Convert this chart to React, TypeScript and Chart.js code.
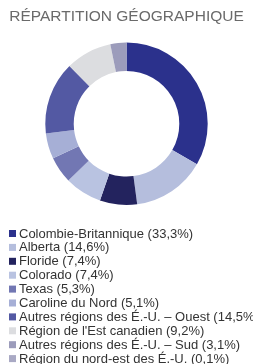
import React, { useEffect, useRef } from "react";
import { Chart, registerables } from "chart.js";

Chart.register(...registerables);

const TITLE = "RÉPARTITION GÉOGRAPHIQUE";
const categories = [
  "Colombie-Britannique",
  "Alberta",
  "Floride",
  "Colorado",
  "Texas",
  "Caroline du Nord",
  "Autres régions des É.-U. – Ouest",
  "Région de l'Est canadien",
  "Autres régions des É.-U. – Sud",
  "Région du nord-est des É.-U.",
];
const values = [33.3, 14.6, 7.4, 7.4, 5.3, 5.1, 14.5, 9.2, 3.1, 0.1];
const colors = [
  "#2b318c",
  "#b5bedd",
  "#23235e",
  "#b9c3e1",
  "#7277b3",
  "#a6afd6",
  "#5359a3",
  "#dcdde0",
  "#9c9cbb",
  "#a9a9c4",
];

const fmt = (v: number) => v.toFixed(1).replace(".", ",") + "%";

const legendPlugin = {
  id: "customLegend",
  afterDraw(chart: any) {
    const ctx = chart.ctx;
    ctx.save();
    ctx.font = "13px 'Liberation Sans', Arial, sans-serif";
    ctx.textBaseline = "middle";
    ctx.textAlign = "left";
    const startY = 233.5;
    const step = 13.9;
    categories.forEach((c, i) => {
      const y = startY + i * step;
      ctx.fillStyle = colors[i];
      ctx.fillRect(9, y - 3.5, 7, 7);
      ctx.fillStyle = "#333333";
      ctx.fillText(`${c} (${fmt(values[i])})`, 19, y + 0.5);
    });
    ctx.restore();
  },
};

export default function App() {
  const ref = useRef<HTMLCanvasElement | null>(null);
  useEffect(() => {
    document.body.style.margin = "0";
    const canvas = ref.current!;
    const chart = new Chart(canvas, {
      type: "doughnut",
      data: {
        labels: categories,
        datasets: [
          {
            data: values,
            backgroundColor: colors,
            borderWidth: 0,
          },
        ],
      },
      options: {
        animation: false,
        responsive: false,
        maintainAspectRatio: false,
        cutout: "65%",
        layout: { padding: { top: 0, bottom: 159, left: 0, right: 0 } },
        plugins: {
          legend: { display: false },
          tooltip: { enabled: false },
          title: {
            display: true,
            text: TITLE,
            color: "#6a6a6a",
            font: { family: "'Liberation Sans', Arial, sans-serif", size: 15.5, weight: "normal" },
            padding: { top: 7, bottom: 17 },
          },
        },
      },
      plugins: [legendPlugin],
    });
    return () => chart.destroy();
  }, []);
  return (
    <div style={{ width: 253, height: 364 }}>
      <canvas ref={ref} width={253} height={364} style={{ display: "block" }} />
    </div>
  );
}
